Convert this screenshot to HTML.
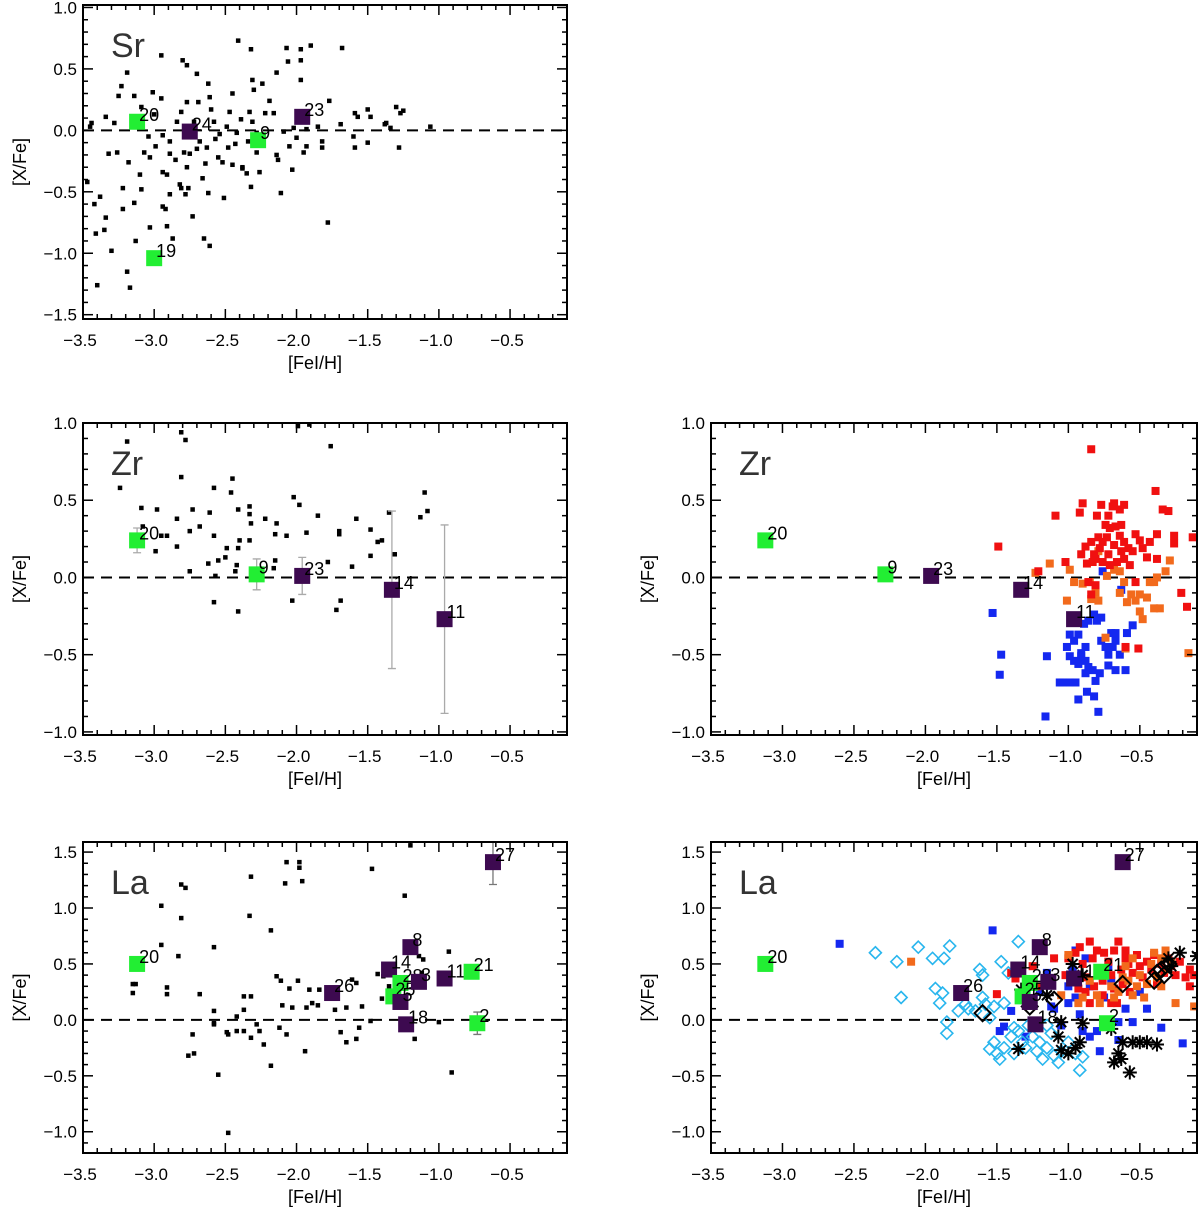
<!DOCTYPE html>
<html><head><meta charset="utf-8">
<style>
body{margin:0;background:#fff;}
svg{display:block;font-family:"Liberation Sans",sans-serif;}
</style></head>
<body>
<svg id="fig" width="1200" height="1211" viewBox="0 0 1200 1211"></svg>
<script>
// ---------------- DATA ----------------
const srDotsX=[-3.45,-3.44,-3.47,-3.42,-3.41,-3.40,-3.38,-3.34,-3.32,-3.34,-3.35,-3.30,-3.26,-3.28,-3.25,-3.23,-3.22,-3.22,-3.19,-3.18,-3.19,-3.17,-3.14,-3.14,-3.13,-3.09,-3.10,-3.09,-3.07,-3.04,-3.03,-3.03,-3.01,-2.99,-3.00,-2.95,-2.95,-2.94,-2.94,-2.94,-2.92,-2.91,-2.91,-2.89,-2.89,-2.89,-2.87,-2.85,-2.84,-2.82,-2.81,-2.80,-2.81,-2.79,-2.78,-2.77,-2.77,-2.77,-2.76,-2.75,-2.73,-2.72,-2.70,-2.70,-2.69,-2.68,-2.66,-2.65,-2.64,-2.63,-2.62,-2.62,-2.61,-2.61,-2.60,-2.58,-2.57,-2.55,-2.54,-2.52,-2.51,-2.49,-2.48,-2.47,-2.45,-2.45,-2.43,-2.42,-2.41,-2.39,-2.38,-2.38,-2.35,-2.34,-2.33,-2.32,-2.32,-2.31,-2.31,-2.30,-2.28,-2.28,-2.26,-2.24,-2.22,-2.19,-2.16,-2.14,-2.14,-2.13,-2.11,-2.09,-2.07,-2.06,-2.05,-2.03,-2.02,-2.00,-1.97,-1.97,-1.97,-1.95,-1.93,-1.93,-1.90,-1.85,-1.82,-1.82,-1.78,-1.77,-1.68,-1.69,-1.60,-1.59,-1.59,-1.57,-1.50,-1.50,-1.48,-1.38,-1.37,-1.34,-1.30,-1.28,-1.27,-1.25,-1.06];
const srDotsY=[0.03,0.06,-0.42,-0.60,-0.84,-1.26,-0.54,0.11,-0.19,-0.71,-0.81,-0.98,-0.18,0.06,0.28,0.36,-0.47,-0.64,0.47,-0.26,-1.15,-1.28,0.28,-0.59,-0.90,0.19,-0.36,-0.48,-0.18,-0.05,-0.22,-0.79,0.31,-0.13,0.13,0.61,0.26,-0.04,-0.34,-0.62,-0.64,-0.36,-0.78,-0.09,-0.52,-0.19,-0.88,-0.24,0.07,-0.44,-0.47,0.57,0.15,-0.18,-0.52,0.53,0.23,-0.30,-0.47,-0.19,-0.70,0.07,0.46,-0.15,0.23,-0.09,-0.39,-0.88,-0.27,-0.14,0.38,-0.51,-0.94,0.27,0.17,0.07,-0.07,-0.22,-0.03,-0.26,-0.55,0.03,-0.14,0.15,0.30,-0.28,-0.11,-0.02,0.73,0.09,-0.31,-0.30,-0.35,-0.09,0.15,0.66,-0.46,0.41,0.07,0.33,-0.18,-0.02,-0.34,0.38,0.14,0.24,0.14,0.47,-0.20,-0.24,-0.51,-0.01,0.67,0.56,-0.13,-0.32,0.02,-0.06,0.66,0.57,0.41,-0.18,-0.13,0.01,0.69,0.03,-0.09,-0.14,-0.75,0.24,0.67,0.05,-0.05,-0.14,0.14,0.11,0.17,-0.10,0.11,0.05,0.06,0.02,0.19,-0.14,0.14,0.16,0.03];

const zrDotsX=[-3.24,-3.19,-3.09,-3.08,-2.98,-2.99,-2.95,-2.91,-2.84,-2.84,-2.81,-2.78,-2.81,-2.75,-2.75,-2.73,-2.68,-2.62,-2.61,-2.58,-2.58,-2.58,-2.57,-2.55,-2.50,-2.49,-2.46,-2.45,-2.43,-2.42,-2.41,-2.41,-2.41,-2.40,-2.33,-2.33,-2.33,-2.32,-2.22,-2.16,-2.15,-2.15,-2.14,-2.07,-2.03,-2.02,-1.99,-1.91,-1.98,-1.93,-1.85,-1.78,-1.76,-1.72,-1.69,-1.70,-1.70,-1.61,-1.58,-1.48,-1.48,-1.43,-1.40,-1.35,-1.31,-1.13,-1.10,-1.08];
const zrDotsY=[0.58,0.88,0.45,0.33,0.44,0.17,0.27,0.27,0.38,0.20,0.94,0.89,0.65,0.30,0.04,0.44,0.33,0.09,0.42,0.58,0.27,-0.16,0.01,0.11,0.13,0.19,0.55,0.64,0.04,0.08,0.44,0.19,-0.22,0.24,0.46,0.41,0.24,0.35,0.38,0.06,0.11,0.28,0.35,0.27,-0.15,0.52,0.98,0.99,0.47,0.29,0.40,0.10,0.85,-0.21,-0.15,0.30,0.28,0.07,0.38,0.31,0.14,0.23,0.24,0.42,0.15,0.39,0.55,0.43];

const laDotsX=[-3.15,-3.15,-3.13,-2.95,-2.95,-2.91,-2.91,-2.83,-2.81,-2.78,-2.81,-2.76,-2.72,-2.73,-2.68,-2.58,-2.58,-2.58,-2.58,-2.55,-2.49,-2.48,-2.48,-2.42,-2.42,-2.37,-2.37,-2.32,-2.37,-2.33,-2.32,-2.32,-2.28,-2.26,-2.23,-2.18,-2.18,-2.14,-2.11,-2.05,-2.12,-2.07,-2.10,-2.08,-2.07,-1.98,-1.98,-1.96,-2.03,-1.99,-1.94,-1.93,-1.91,-1.84,-1.89,-1.85,-1.73,-1.69,-1.65,-1.65,-1.61,-1.58,-1.58,-1.56,-1.54,-1.48,-1.47,-1.43,-1.39,-1.40,-1.35,-1.24,-1.20,-1.17,-1.14,-1.11,-1.12,-1.00,-0.93,-0.91];
const laDotsY=[0.32,0.24,0.32,1.02,0.67,0.29,0.23,0.57,1.21,1.18,0.91,-0.32,-0.30,-0.13,0.23,0.65,0.08,-0.03,-0.04,-0.49,-0.11,-0.13,-1.01,0.03,-0.10,-0.10,0.21,0.21,0.09,0.93,1.28,-0.16,-0.04,-0.10,-0.22,0.80,-0.41,0.39,0.35,0.28,-0.07,-0.13,0.13,1.22,1.41,1.41,1.36,1.24,0.11,0.35,-0.28,0.11,0.27,0.27,0.15,0.13,0.09,-0.11,0.11,-0.20,0.36,0.33,-0.17,-0.07,0.12,-0.01,1.35,0.41,0.39,0.19,0.30,1.11,1.56,-0.17,0.57,0.54,0.42,-0.02,0.61,-0.47];

const srStarX=[-3.12,-3.00,-2.27,-2.75,-1.96];
const srStarY=[0.07,-1.04,-0.08,-0.01,0.11];
const srStarId=["20","19","9","24","23"];
const srStarPop=["g","g","g","p","p"];

const zrStarX=[-3.12,-2.28,-1.96,-1.33,-0.96];
const zrStarY=[0.24,0.02,0.01,-0.08,-0.27];
const zrStarErr=[0.08,0.10,0.12,0.51,0.61];
const zrStarId=["20","9","23","14","11"];
const zrStarPop=["g","g","p","p","p"];

const laStarX=[-3.12,-1.75,-1.35,-1.20,-1.27,-1.32,-1.27,-1.14,-0.96,-0.77,-0.73,-1.23,-0.62];
const laStarY=[0.50,0.24,0.45,0.65,0.33,0.21,0.16,0.34,0.37,0.43,-0.03,-0.04,1.41];
const laStarErr=[0.05,0.05,0.05,0.05,0.05,0.05,0.05,0.05,0.05,0.05,0.10,0.05,0.20];
const laStarId=["20","26","14","8","28","25","5","3","11","21","2","18","27"];
const laStarPop=["g","p","p","p","g","g","p","p","p","g","g","p","p"];

const zrBlueX=[-1.53,-1.47,-1.48,-1.15,-1.16,-1.06,-1.04,-0.99,-0.95,-1.01,-0.99,-0.96,-0.93,-0.91,-0.88,-0.99,-0.96,-0.93,-0.89,-0.86,-0.82,-0.80,-0.77,-0.93,-0.87,-0.82,-0.79,-0.78,-0.81,-0.86,-0.83,-0.88,-0.77,-0.74,-0.72,-0.69,-0.67,-0.64,-0.70,-0.67,-0.59,-0.55,-0.72,-0.67,-0.60,-0.91,-0.88,-0.63,-0.76];
const zrBlueY=[-0.23,-0.50,-0.63,-0.51,-0.90,-0.68,-0.68,-0.68,-0.68,-0.45,-0.51,-0.54,-0.56,-0.51,-0.45,-0.37,-0.41,-0.37,-0.30,-0.28,-0.24,-0.28,-0.26,-0.79,-0.74,-0.77,-0.87,-0.62,-0.67,-0.58,-0.60,-0.62,-0.41,-0.45,-0.50,-0.45,-0.41,-0.50,-0.36,-0.36,-0.36,-0.31,-0.57,-0.60,-0.60,-0.49,-0.54,-0.08,0.04];
const zrRedX=[-1.49,-1.21,-1.09,-1.02,-0.92,-0.90,-0.84,-0.80,-0.88,-0.84,-0.82,-0.78,-0.76,-0.73,-0.87,-0.83,-0.81,-0.76,-0.71,-0.66,-0.61,-0.77,-0.72,-0.69,-0.68,-0.64,-0.61,-0.71,-0.67,-0.64,-0.61,-0.58,-0.68,-0.63,-0.53,-0.50,-0.48,-0.45,-0.43,-0.39,-0.34,-0.30,-0.38,-0.38,-0.26,-0.26,-0.21,-0.17,-0.13,-0.51,-0.60,-0.86,-0.84,-0.81,-0.57,-0.53,-0.91,-0.74,-0.63,-0.55,-0.72,-0.79];
const zrRedY=[0.20,0.04,0.40,0.10,0.42,0.48,0.83,0.40,0.20,0.23,0.15,0.19,0.23,0.26,0.09,0.10,0.12,0.10,0.08,0.10,0.12,0.47,0.40,0.46,0.48,0.44,0.47,0.32,0.33,0.27,0.23,0.19,0.21,0.17,0.28,0.24,0.19,0.13,0.23,0.56,0.44,0.43,0.28,0.12,0.27,0.22,-0.10,-0.19,0.26,-0.46,-0.45,-0.03,-0.11,-0.05,0.08,-0.03,0.15,0.34,0.34,0.17,0.15,0.26];
const zrOrangeX=[-1.23,-1.13,-1.01,-0.99,-0.96,-0.90,-0.85,-0.81,-0.84,-0.79,-0.79,-0.68,-0.64,-0.61,-0.56,-0.53,-0.50,-0.45,-0.43,-0.40,-0.38,-0.50,-0.48,-0.40,-0.36,-0.32,-0.29,-0.73,-0.74,-0.60,-0.16,-0.64,-0.59];
const zrOrangeY=[0.03,0.09,-0.15,0.05,-0.03,-0.04,-0.03,-0.10,-0.14,-0.15,0.17,0.05,0.04,-0.03,-0.11,-0.15,-0.11,-0.13,-0.03,-0.03,0.00,-0.22,-0.27,-0.20,-0.20,0.04,0.11,0.01,-0.39,-0.46,-0.49,-0.10,-0.16];

const laBlueX=[-1.53,-2.60,-1.48,-1.40,-1.30,-1.15,-1.10,-1.05,-1.00,-0.95,-0.92,-0.90,-0.85,-0.80,-0.78,-0.75,-0.70,-0.65,-0.60,-0.55,-0.50,-0.45,-0.35,-0.30,-0.20,-0.65,-1.20,-0.97,-0.88,-1.45,-0.72,-0.95,-1.00,-0.85,-1.12];
const laBlueY=[0.80,0.68,-0.10,0.08,-0.15,0.42,0.10,-0.05,0.30,0.62,0.05,-0.10,0.30,-0.10,-0.28,0.20,0.35,-0.02,0.10,-0.02,0.25,0.10,-0.07,0.45,-0.21,-0.18,0.25,0.45,0.55,-0.06,0.48,0.20,0.15,-0.15,0.12];
const laRedX=[-1.50,-1.40,-1.37,-1.22,-1.00,-0.95,-0.92,-0.90,-0.88,-0.85,-0.83,-0.80,-0.78,-0.75,-0.72,-0.70,-0.68,-0.65,-0.63,-0.60,-0.58,-0.55,-0.52,-0.50,-0.48,-0.45,-0.42,-0.40,-0.38,-0.35,-0.33,-0.30,-0.28,-0.25,-0.22,-0.18,-0.15,-0.12,-0.88,-0.82,-0.76,-0.70,-0.68,-0.66,-0.97,-0.93,-0.85,-0.62,-0.57,-0.76,-1.25,-1.02,-0.60,-0.15,-1.10];
const laRedY=[0.23,0.42,0.37,0.30,0.55,0.60,0.65,0.50,0.38,0.70,0.55,0.62,0.45,0.60,0.52,0.40,0.62,0.70,0.45,0.55,0.50,0.42,0.58,0.48,0.38,0.52,0.45,0.58,0.32,0.50,0.42,0.55,0.48,0.40,0.52,0.38,0.45,0.40,0.25,0.30,0.22,0.15,0.28,0.15,0.35,0.28,0.15,0.32,0.25,0.35,0.48,0.40,0.62,0.30,0.55];
const laOrangeX=[-2.10,-1.00,-0.95,-0.90,-0.85,-0.80,-0.75,-0.70,-0.65,-0.62,-0.58,-0.55,-0.52,-0.50,-0.47,-0.45,-0.42,-0.40,-0.38,-0.35,-0.32,-0.30,-0.28,-0.55,-1.05,-0.93,-0.12,-0.25,-0.35,-0.60,-0.68,-0.78];
const laOrangeY=[0.52,0.58,0.40,0.20,0.35,0.22,0.40,0.30,0.25,0.38,0.35,0.22,0.30,0.40,0.20,0.32,0.50,0.60,0.38,0.30,0.62,0.45,0.52,0.55,0.22,0.15,0.12,0.15,0.55,0.48,0.20,0.15];
const laCyanX=[-2.35,-2.20,-2.17,-2.05,-1.95,-1.93,-1.90,-1.88,-1.87,-1.83,-1.85,-1.85,-1.77,-1.72,-1.70,-1.65,-1.62,-1.60,-1.58,-1.55,-1.52,-1.55,-1.52,-1.50,-1.47,-1.45,-1.42,-1.40,-1.38,-1.35,-1.35,-1.32,-1.30,-1.28,-1.25,-1.22,-1.20,-1.18,-1.15,-1.12,-1.10,-1.07,-1.05,-1.00,-0.95,-0.92,-0.90,-1.45,-1.60,-1.48,-1.38,-1.15];
const laCyanY=[0.60,0.52,0.20,0.65,0.55,0.28,0.15,0.24,0.55,0.66,-0.02,-0.12,0.08,0.14,0.10,0.08,0.45,0.40,0.14,0.02,0.12,-0.26,-0.20,-0.30,0.52,-0.25,0.42,-0.15,-0.07,0.70,-0.10,-0.20,-0.25,-0.05,-0.15,-0.28,-0.20,-0.35,-0.25,-0.12,-0.32,-0.38,-0.28,-0.20,-0.30,-0.45,-0.33,0.15,0.20,-0.35,-0.30,-0.05];
const laAstX=[-1.35,-1.33,-1.15,-1.05,-1.07,-1.05,-1.00,-0.97,-0.95,-0.92,-0.90,-0.90,-0.70,-0.68,-0.65,-0.63,-0.62,-0.57,-0.55,-0.50,-0.45,-0.38,-0.30,-0.22,-0.28,-0.10];
const laAstY=[-0.26,0.27,0.22,-0.02,-0.15,-0.27,-0.30,0.50,-0.25,-0.20,-0.03,0.40,-0.08,-0.38,-0.30,-0.35,-0.20,-0.47,-0.20,-0.20,-0.20,-0.22,0.55,0.60,0.48,0.57];
const laDiaX=[-1.60,-1.27,-1.10,-0.62,-0.40,-0.38,-0.35,-0.33,-0.30];
const laDiaY=[0.06,0.12,0.18,0.32,0.35,0.42,0.45,0.40,0.50];

const xTickLabels=["−3.5","−3.0","−2.5","−2.0","−1.5","−1.0","−0.5"];
const xTickVals=[-3.5,-3.0,-2.5,-2.0,-1.5,-1.0,-0.5];
const srYTicks=[1.0,0.5,0.0,-0.5,-1.0,-1.5];
const zrYTicks=[1.0,0.5,0.0,-0.5,-1.0];
const laYTicks=[1.5,1.0,0.5,0.0,-0.5,-1.0];

// ---------------- DRAWING ----------------
const NS="http://www.w3.org/2000/svg";
const svg=document.getElementById('fig');
function mk(tag,attrs,parent){const e=document.createElementNS(NS,tag);for(const k in attrs)e.setAttribute(k,attrs[k]);(parent||svg).appendChild(e);return e;}
const GREEN="#22ee33", PURPLE="#3d0a50";

function panel(name,L,R,T,B,ymin,ymax,yticks,element){
  const g=mk('g',{});
  
  
  const xmin=-3.5,xmax=-0.1;
  const sx=v=>L+(v-xmin)/(xmax-xmin)*(R-L);
  const sy=v=>B-(v-ymin)/(ymax-ymin)*(B-T);
  const cid='clip-'+name;
  const cp=mk('clipPath',{id:cid},g);mk('rect',{x:L,y:T,width:R-L,height:B-T},cp);
  const plot=mk('g',{'clip-path':'url(#'+cid+')'},g);
  
  
  const z=mk('line',{x1:L,x2:R,y1:sy(0),y2:sy(0),stroke:'#000','stroke-width':2,'stroke-dasharray':'11,7'},plot);
  
  
  const fr=mk('rect',{x:L,y:T,width:R-L,height:B-T,fill:'none',stroke:'#000','stroke-width':2},g);
  
  
  for(let i=0;i<=34;i++){const v=xmin+i*0.1;const x=sx(v);const maj=Math.abs((v*2)-Math.round(v*2))<1e-6;const len=maj?10:5;
    mk('line',{x1:x,x2:x,y1:B,y2:B-len,stroke:'#000','stroke-width':1.5},g);
    mk('line',{x1:x,x2:x,y1:T,y2:T+len,stroke:'#000','stroke-width':1.5},g);}
  xTickVals.forEach((v,i)=>{const t=mk('text',{x:sx(v)-3,y:B+27,'font-size':17,'text-anchor':'middle'},g);t.textContent=xTickLabels[i];
    
    });
  const y0=Math.ceil(ymin*10),y1=Math.floor(ymax*10);
  for(let k=y0;k<=y1;k++){const v=k/10;const y=sy(v);const maj=k%5===0;const len=maj?10:5;
    mk('line',{x1:L,x2:L+len,y1:y,y2:y,stroke:'#000','stroke-width':1.5},g);
    mk('line',{x1:R,x2:R-len,y1:y,y2:y,stroke:'#000','stroke-width':1.5},g);}
  yticks.forEach(v=>{const t=mk('text',{x:L-6,y:sy(v)+6,'font-size':17,'text-anchor':'end'},g);t.textContent=(v<0?'−':'')+Math.abs(v).toFixed(1);
    
    });
  const xt=mk('text',{x:(L+R)/2-10,y:B+50,'font-size':18,'text-anchor':'middle'},g);xt.textContent='[FeI/H]';
  
  
  const yt=mk('text',{x:L-57,y:(T+B)/2,'font-size':18,'text-anchor':'middle',transform:'rotate(-90 '+(L-57)+' '+((T+B)/2)+')'},g);yt.textContent='[X/Fe]';
  
  
  const el=mk('text',{x:L+28,y:T+52,'font-size':34,fill:'#333'},g);el.textContent=element;
  
  
  return {g:plot,sx,sy,top:g};
}
function dots(p,X,Y,size,color,name){X.forEach((x,i)=>{const r=mk('rect',{x:p.sx(x)-size/2,y:p.sy(Y[i])-size/2,width:size,height:size,fill:color},p.g);
  
  });}
function diamonds(p,X,Y,s,color,w,name){X.forEach((x,i)=>{const cx=p.sx(x),cy=p.sy(Y[i]);const d=mk('polygon',{points:`${cx},${cy-s} ${cx+s},${cy} ${cx},${cy+s} ${cx-s},${cy}`,fill:'none',stroke:color,'stroke-width':w},p.g);
  
  });}
function asterisks(p,X,Y,name){X.forEach((x,i)=>{const cx=p.sx(x),cy=p.sy(Y[i]);const s=7;
  const a=mk('path',{d:`M${cx-s},${cy}H${cx+s}M${cx},${cy-s}V${cy+s}M${cx-5},${cy-5}L${cx+5},${cy+5}M${cx-5},${cy+5}L${cx+5},${cy-5}`,stroke:'#000','stroke-width':2},p.g);
  
  });}
function stars(p,X,Y,ID,POP,ERR,errColor){X.forEach((x,i)=>{const cx=p.sx(x),cy=p.sy(Y[i]);
  if(ERR){const e0=p.sy(Y[i]-ERR[i]),e1=p.sy(Y[i]+ERR[i]);
    const eb=mk('path',{d:`M${cx},${e0}V${e1}M${cx-4},${e0}H${cx+4}M${cx-4},${e1}H${cx+4}`,stroke:errColor,'stroke-width':1.3},p.g);
    
    }
  const r=mk('rect',{x:cx-8,y:cy-8,width:16,height:16,fill:POP[i]==='g'?GREEN:PURPLE},p.g);
  
  
  const t=mk('text',{x:cx+2,y:cy-1,'font-size':18},p.g);t.textContent=ID[i];
  
  });}

const pSr=panel('sr',83,567,5,319,-1.535,1.02,srYTicks,'Sr');
dots(pSr,srDotsX,srDotsY,4.5,'#000','literature-point');
stars(pSr,srStarX,srStarY,srStarId,srStarPop,null,null);

const pZrL=panel('zr-left',83,567,423,735,-1.02,1.0,zrYTicks,'Zr');
dots(pZrL,zrDotsX,zrDotsY,4.5,'#000','literature-point');
stars(pZrL,zrStarX,zrStarY,zrStarId,zrStarPop,zrStarErr,'#aaa');

const pZrR=panel('zr-right',711,1197,423,735,-1.02,1.0,zrYTicks,'Zr');
dots(pZrR,zrBlueX,zrBlueY,8,'#1428f0','blue-sample-point');
dots(pZrR,zrOrangeX,zrOrangeY,8,'#f26a1c','orange-sample-point');
dots(pZrR,zrRedX,zrRedY,8,'#f01010','red-sample-point');
stars(pZrR,zrStarX,zrStarY,zrStarId,zrStarPop,null,null);

const pLaL=panel('la-left',83,567,842,1153,-1.19,1.59,laYTicks,'La');
dots(pLaL,laDotsX,laDotsY,4.5,'#000','literature-point');
stars(pLaL,laStarX,laStarY,laStarId,laStarPop,laStarErr,'#777');

const pLaR=panel('la-right',711,1197,842,1153,-1.19,1.59,laYTicks,'La');
dots(pLaR,laBlueX,laBlueY,8,'#1428f0','blue-sample-point');
dots(pLaR,laRedX,laRedY,8,'#f01010','red-sample-point');
dots(pLaR,laOrangeX,laOrangeY,8,'#f26a1c','orange-sample-point');
diamonds(pLaR,laCyanX,laCyanY,6,'#29b6ee',1.6,'cyan-diamond-point');
asterisks(pLaR,laAstX,laAstY,'asterisk-point');
diamonds(pLaR,laDiaX,laDiaY,8,'#000',2,'black-diamond-point');
stars(pLaR,laStarX,laStarY,laStarId,laStarPop,null,null);
</script>
</body></html>
